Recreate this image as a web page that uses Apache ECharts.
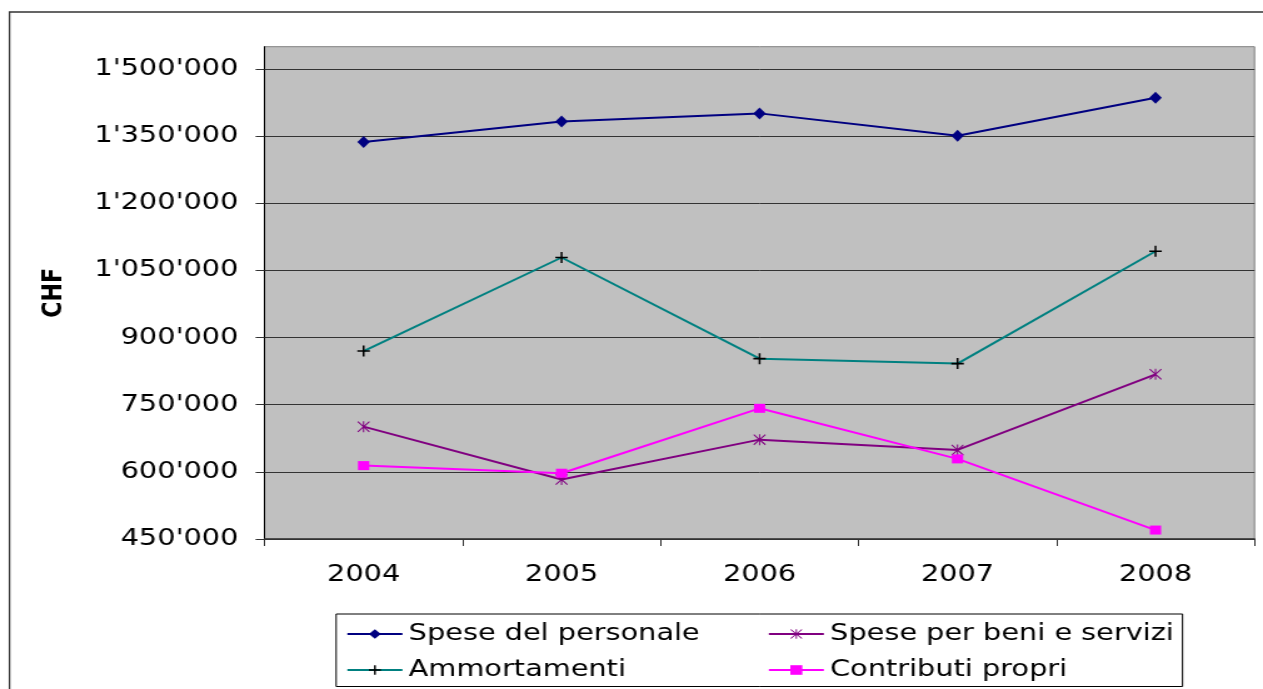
<!DOCTYPE html>
<html>
<head>
<meta charset="utf-8">
<script src="https://cdn.jsdelivr.net/npm/echarts@6/dist/echarts.min.js"></script>
<style>
  html, body { margin: 0; padding: 0; background: #ffffff; overflow: hidden; }
  #wrap { width: 1263px; height: 689px; overflow: hidden; position: relative; }
  #c { width: 1010px; height: 689px; transform: scaleX(1.2505); transform-origin: 0 0; }
</style>
</head>
<body>
<div id="wrap"><div id="c"></div></div>
<script>
// ---- data ----
const years = ['2004', '2005', '2006', '2007', '2008'];
const seriesNames = ['Spese del personale', 'Spese per beni e servizi', 'Ammortamenti', 'Contributi propri'];
const spesePersonale = [1337000, 1383000, 1401000, 1351000, 1436000];
const speseBeniServizi = [701000, 583000, 672000, 649000, 818000];
const ammortamenti = [870000, 1079000, 853000, 842000, 1093000];
const contributiPropri = [614000, 597000, 742000, 629000, 470000];
const yTickValues = [450000, 600000, 750000, 900000, 1050000, 1200000, 1350000, 1500000];
const yAxisName = 'CHF';

const FONT = '"DejaVu Sans", Verdana, sans-serif';
const PLUS = 'path://M4.25,0h1.5v10h-1.5zM0,4.25h10v1.5h-10z';
const STAR = 'path://M0,0.7L0.7,0L10,9.3L9.3,10ZM0.7,10L0,9.3L9.3,0L10,0.7ZM4.5,0h1v10h-1z';

function fmt(v) {
  if (yTickValues.indexOf(v) < 0) return '';
  return String(v).replace(/\B(?=(\d{3})+(?!\d))/g, "'");
}

const chart = echarts.init(document.getElementById('c'), null, { renderer: 'canvas' });
chart.setOption({
  animation: false,
  backgroundColor: '#ffffff',
  graphic: [{
    type: 'rect', z: 0, silent: true,
    shape: { x: 7.6, y: 12, width: 1200, height: 1000 },
    style: { fill: 'transparent', stroke: '#333333', lineWidth: 1.3 }
  }],
  grid: {
    left: 211.6, top: 46.7, right: 6.8, bottom: 150,
    show: true, backgroundColor: '#c0c0c0', borderColor: '#808080', borderWidth: 1
  },
  legend: {
    left: 268.8, top: 614, width: 800, orient: 'horizontal',
    padding: [8.5, 7, 5, 8], itemGap: 13, itemWidth: 44, itemHeight: 12,
    borderColor: '#000000', borderWidth: 1, borderRadius: 0,
    textStyle: { fontSize: 23, fontFamily: FONT, color: '#000000', width: 274, lineHeight: 23 },
    data: seriesNames
  },
  xAxis: {
    type: 'category', data: years, boundaryGap: true,
    axisLine: { show: true, lineStyle: { color: '#333333', width: 1.5 } },
    axisTick: { show: true, length: 7, alignWithLabel: false, lineStyle: { color: '#333333', width: 1 } },
    axisLabel: { fontSize: 23, fontFamily: FONT, color: '#000000', margin: 25 },
    splitLine: { show: false }
  },
  yAxis: {
    type: 'value', min: 450000, max: 1550000, interval: 150000,
    name: yAxisName, nameLocation: 'middle', nameRotate: 90, nameGap: 157,
    nameTextStyle: { fontSize: 22, fontWeight: 'bold', fontFamily: FONT, color: '#000000' },
    axisLine: { show: true, lineStyle: { color: '#000000', width: 1 } },
    axisTick: { show: true, inside: false, length: 7.2, customValues: yTickValues, lineStyle: { color: '#333333', width: 1 } },
    axisLabel: { fontSize: 23, fontFamily: FONT, color: '#000000', margin: 21, formatter: fmt },
    splitLine: { show: true, lineStyle: { color: ['#333333', '#333333', '#333333', '#333333', '#333333', '#333333', '#333333', '#333333', '#808080'], width: 1 } }
  },
  series: [
    {
      name: seriesNames[0], type: 'line', data: spesePersonale,
      symbol: 'diamond', symbolSize: [10, 12],
      lineStyle: { color: '#000080', width: 2 },
      itemStyle: { color: '#000080', borderWidth: 0 }
    },
    {
      name: seriesNames[1], type: 'line', data: speseBeniServizi,
      symbol: STAR, symbolSize: [10, 11],
      lineStyle: { color: '#800080', width: 2 },
      itemStyle: { color: '#800080', borderWidth: 0 }
    },
    {
      name: seriesNames[2], type: 'line', data: ammortamenti,
      symbol: PLUS, symbolSize: [10, 11],
      lineStyle: { color: '#008080', width: 2 },
      itemStyle: { color: '#000000', borderWidth: 0 }
    },
    {
      name: seriesNames[3], type: 'line', data: contributiPropri,
      symbol: 'rect', symbolSize: [9, 9],
      lineStyle: { color: '#ff00ff', width: 2 },
      itemStyle: { color: '#ff00ff', borderWidth: 0 }
    }
  ]
});
</script>
</body>
</html>
